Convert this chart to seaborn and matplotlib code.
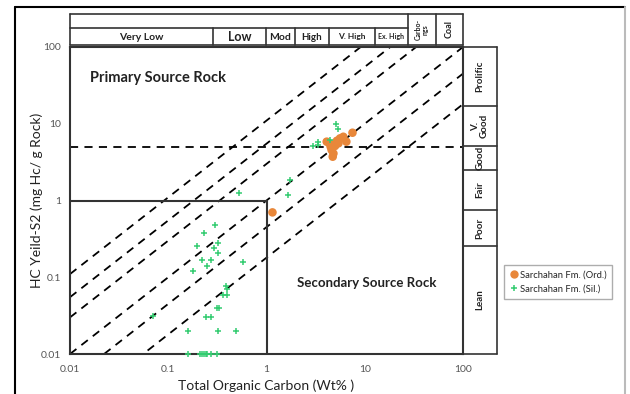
import numpy as np
import pandas as pd
import matplotlib
matplotlib.use("Agg")
import matplotlib.pyplot as plt
from matplotlib.lines import Line2D
import seaborn as sns

# ---------------- data ----------------
toc_ord = [1.15, 4.1, 4.36, 4.6, 4.72, 4.8, 4.98, 5.4, 5.6, 6.05, 6.5, 7.5, 5.2, 4.5]
s2_ord = [0.70, 5.84, 5.56, 4.55, 3.72, 4.1, 5.13, 5.56, 6.45, 6.77, 5.84, 7.64, 6.0, 5.0]

toc_sil = [5.1, 5.4, 3.37, 3.37, 3.0, 4.4, 1.73, 1.67, 0.52, 0.30, 0.23, 0.195,
           0.32, 0.29, 0.32, 0.22, 0.27, 0.25, 0.18, 0.58, 0.39, 0.40, 0.36, 0.40,
           0.31, 0.33, 0.24, 0.27, 0.16, 0.32, 0.49, 0.07,
           0.16, 0.21, 0.22, 0.23, 0.24, 0.25, 0.27, 0.31]
s2_sil = [9.9, 8.5, 5.84, 5.3, 5.13, 6.2, 1.85, 1.18, 1.24, 0.48, 0.38, 0.255,
          0.28, 0.24, 0.21, 0.17, 0.17, 0.14, 0.122, 0.16, 0.077, 0.071, 0.059, 0.059,
          0.040, 0.040, 0.030, 0.030, 0.020, 0.020, 0.020, 0.031,
          0.01, 0.01, 0.01, 0.01, 0.01, 0.01, 0.01, 0.01]

series_labels = ["Sarchahan Fm. (Ord.)", "Sarchahan Fm. (Sil.)"]
s2_over_toc = [11, 5.5, 3, 1, 0.45, 0.18]   # diagonal reference lines
s2_threshold = 5
box_limit = 1
x_ticks = [0.01, 0.1, 1, 10, 100]
x_ticklabels = ["0.01", "0.1", "1", "10", "100"]

toc_classes = ["Very Low", "Low", "Mod", "High", "V. High", "Ex. High"]
toc_class_px = [70, 213, 266, 295, 329, 375, 408]
toc_class_fs = [7.5, 9, 7.5, 7, 6, 5]
s2_classes = ["Prolific", "V.\nGood", "Good", "Fair", "Poor", "Lean"]
s2_class_px = [47, 106, 146, 170, 210, 246, 354]

df = pd.DataFrame({
    "toc": toc_ord + toc_sil,
    "s2": s2_ord + s2_sil,
    "fm": [series_labels[0]] * len(toc_ord) + [series_labels[1]] * len(toc_sil),
})

# ---------------- figure ----------------
sns.set_style("white")
plt.rcParams["font.family"] = ["Lato", "DejaVu Sans"]

W, H = 630, 394
fig = plt.figure(figsize=(W / 100, H / 100), dpi=100)

def fx(px):
    return px / W

def fy(py):
    return 1 - py / H

ax = fig.add_axes([fx(70), fy(354), fx(463) - fx(70), fy(47) - fy(354)])
ax.set_xscale("log")
ax.set_yscale("log")
ax.set_xlim(0.01, 100)
ax.set_ylim(0.01, 100)

line_col = "#333333"
dash = (0, (4.5, 3.5))
xs = np.array([0.01, 100.0])
for k in s2_over_toc:
    ax.plot(xs, k * xs, color="black", lw=1.3, ls=dash, zorder=2)
ax.axhline(s2_threshold, color="black", lw=1.3, ls=dash, zorder=2)
ax.plot([0.01, box_limit, box_limit], [box_limit, box_limit, 0.01], color=line_col, lw=1.5, zorder=2)

ord_df = df[df.fm == series_labels[0]]
sil_df = df[df.fm == series_labels[1]]
sns.scatterplot(data=ord_df, x="toc", y="s2", ax=ax, color="#E8873A", marker="o",
                s=38, edgecolor="none", zorder=4, clip_on=False, legend=False)
sns.scatterplot(data=sil_df, x="toc", y="s2", ax=ax, color="#33CC70", marker="+",
                s=18, linewidth=1.1, zorder=4, clip_on=False, legend=False)

for sp in ax.spines.values():
    sp.set_color(line_col)
    sp.set_linewidth(1.5)

ax.set_xticks(x_ticks)
ax.set_xticklabels(x_ticklabels)
ax.set_yticks(x_ticks)
ax.set_yticklabels(x_ticklabels)
ax.tick_params(axis="both", which="major", labelsize=7.5, labelcolor="#555555",
               direction="out", length=3, color=line_col, width=1)
ax.tick_params(axis="y", which="minor", direction="out", length=2, color=line_col, width=0.7)
ax.tick_params(axis="x", which="minor", length=0)
ax.tick_params(axis="x", pad=5)

ax.set_xlabel("Total Organic Carbon (Wt% )", fontsize=10, color="#222222", labelpad=4)
ax.set_ylabel("HC Yeild-S2 (mg Hc/ g Rock)", fontsize=10, color="#222222", labelpad=-2)

ax.text(0.0158, 39, "Primary Source Rock", fontsize=10.5, fontweight="bold", color="#222222",
        ha="left", va="center")
ax.text(10.5, 0.084, "Secondary Source Rock", fontsize=9.5, fontweight="bold", color="#222222",
        ha="center", va="center")

# ---------------- header classification boxes ----------------
def hline(x0, x1, y, lw=1.2):
    fig.add_artist(Line2D([fx(x0), fx(x1)], [fy(y), fy(y)], color=line_col, lw=lw))

def vline(x, y0, y1, lw=1.2):
    fig.add_artist(Line2D([fx(x), fx(x)], [fy(y0), fy(y1)], color=line_col, lw=lw))

top, mid, bot = 14, 28, 45
hline(70, 463, top)
hline(70, 408, mid)
hline(70, 463, bot)
vline(70, top, bot)
vline(408, top, bot)
vline(436, top, bot)
vline(463, top, bot)
for i, lab in enumerate(toc_classes):
    x0, x1 = toc_class_px[i], toc_class_px[i + 1]
    if i > 0:
        vline(x0, mid, bot)
    fig.text(fx((x0 + x1) / 2), fy((mid + bot) / 2 + 0.5), lab, fontsize=toc_class_fs[i],
             fontweight="bold", ha="center", va="center", color="#222222")
fig.text(fx(422), fy((top + bot) / 2), "Carbo-\nngs", fontsize=5, fontweight="bold",
         rotation=90, ha="center", va="center", color="#222222", linespacing=1.0)
fig.text(fx(449.5), fy((top + bot) / 2), "Coal", fontsize=6.5, fontweight="bold",
         rotation=90, ha="center", va="center", color="#222222")

# ---------------- right classification column ----------------
vline(497, 47, 354)
for i, lab in enumerate(s2_classes):
    y0, y1 = s2_class_px[i], s2_class_px[i + 1]
    hline(463, 497, y0)
    fig.text(fx(480), fy((y0 + y1) / 2), lab, fontsize=7, fontweight="bold",
             rotation=90, ha="center", va="center", color="#222222", linespacing=1.0)
hline(463, 497, 354)

# ---------------- legend ----------------
handles = [
    Line2D([], [], marker="o", color="#E8873A", ls="none", markersize=5),
    Line2D([], [], marker="+", color="#33CC70", ls="none", markersize=5, markeredgewidth=1.1),
]
fig.legend(handles, series_labels, loc="upper left",
           bbox_to_anchor=(fx(504), fy(265)), fontsize=6.8, frameon=True,
           edgecolor="#999999", fancybox=False, handletextpad=0.2, borderpad=0.6,
           handlelength=0.9, labelspacing=0.5, borderaxespad=0)

# ---------------- outer frame ----------------
fig.add_artist(Line2D([fx(15), fx(15)], [0, fy(7)], color="black", lw=1.5))
fig.add_artist(Line2D([fx(15), fx(625)], [fy(7), fy(7)], color="black", lw=1.5))
fig.add_artist(Line2D([fx(625), fx(625)], [0, fy(7)], color="#bbbbbb", lw=1.5))

fig.savefig("out.png", dpi=100)
